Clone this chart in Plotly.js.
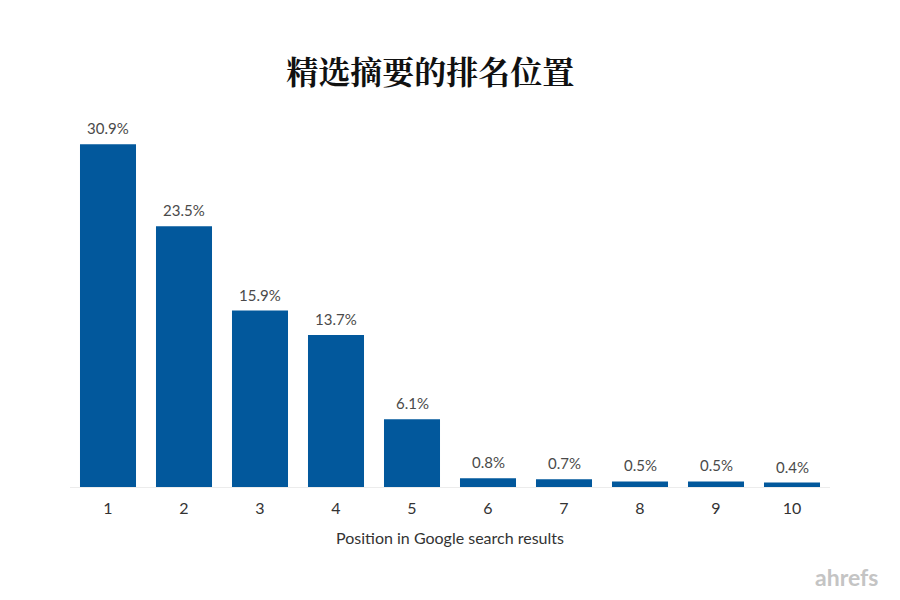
<!DOCTYPE html>
<html>
<head>
<meta charset="utf-8">
<script src="https://cdn.plot.ly/plotly-3.0.1.min.js"></script>
<style>
  html, body { margin: 0; padding: 0; background: #fff; }
  #chart { width: 900px; height: 600px; }
</style>
</head>
<body>
<div id="chart"></div>
<script>
// Share of featured snippets by Google ranking position
const positions = ["1", "2", "3", "4", "5", "6", "7", "8", "9", "10"];
const shares = [30.9, 23.5, 15.9, 13.7, 6.1, 0.8, 0.7, 0.5, 0.5, 0.4];
const shareLabels = shares.map(v => v.toFixed(1) + "%");

const trace = {
  x: positions,
  y: shares,
  type: "bar",
  marker: { color: "#02589c" },
  hoverinfo: "none"
};

// value labels sit a little higher above the bars than plotly's outside text.
// on a category axis the annotation x is the category index
const valueNotes = positions.map((p, i) => ({
  x: i,
  y: shares[i],
  text: shareLabels[i],
  xref: "x", yref: "y",
  yanchor: "bottom",
  yshift: 5,
  showarrow: false,
  font: { family: "Lato, sans-serif", size: 15, color: "#4a4a4a" }
}));

const layout = {
  width: 900,
  height: 600,
  margin: { l: 70, r: 70, t: 132, b: 113 },
  paper_bgcolor: "#fff",
  plot_bgcolor: "#fff",
  bargap: 0.263,
  showlegend: false,
  title: {
    text: "<b>精选摘要的排名位置</b>",
    font: { family: "Noto Serif CJK SC, Noto Sans CJK SC, serif", size: 32, color: "#111" },
    x: 0.478,
    xanchor: "center",
    y: 0.878,
    yanchor: "middle"
  },
  xaxis: {
    type: "category",
    range: [-0.5, positions.length - 0.5],
    showgrid: false,
    showline: true,
    linecolor: "#ececec",
    linewidth: 1,
    ticks: "",
    ticklabelstandoff: 7,
    tickfont: { family: "Lato, sans-serif", size: 16, color: "#333" },
    title: {
      text: "Position in Google search results",
      font: { family: "Lato, sans-serif", size: 16, color: "#333" },
      standoff: 16
    }
  },
  yaxis: {
    range: [0, 32],
    visible: false,
    showgrid: false,
    zeroline: false
  },
  annotations: valueNotes.concat([{
    text: "<b>ahrefs</b>",
    xref: "paper", yref: "paper",
    x: 1.066, y: -0.2535,
    xanchor: "right", yanchor: "middle",
    showarrow: false,
    font: { family: "Lato, sans-serif", size: 23, color: "#c4c4c4" }
  }])
};

Plotly.newPlot("chart", [trace], layout, { staticPlot: true });
</script>
</body>
</html>
